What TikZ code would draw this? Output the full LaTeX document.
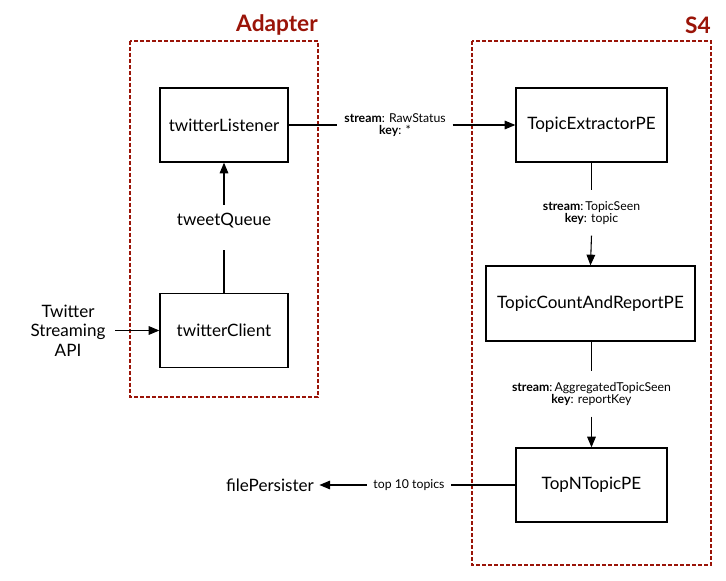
\documentclass[tikz,border=0pt]{standalone}
\usepackage{fontspec}
\setmainfont{Lato}
\usetikzlibrary{arrows.meta}
\definecolor{adred}{HTML}{9A1408}
\tikzset{
  px/.style={x=0.75pt,y=-0.75pt},
  pebox/.style={draw,line width=1pt,minimum height=55.5pt,inner sep=0pt,font=\fontsize{12.8}{14}\selectfont},
  plain/.style={font=\fontsize{12.8}{14.5}\selectfont,inner sep=0pt},
  lbl/.style={font=\fontsize{9.2}{9.3}\selectfont,align=center,inner xsep=5pt,inner ysep=7pt},
  grp/.style={draw=adred,line width=1pt,dash pattern=on 3pt off 1.5pt},
  ttl/.style={text=adred,font=\fontsize{17}{19}\bfseries\selectfont,inner sep=0pt},
  conn/.style={line width=0.8pt},
  arr/.style={conn,-{Triangle[length=8pt,width=6.5pt]}}
}
\begin{document}
\begin{tikzpicture}[px]
\useasboundingbox (0,0) rectangle (726,581);
% group boxes
\draw[grp] (130,41) rectangle (318,397);
\draw[grp] (472,41) rectangle (711,565);
\node[ttl,anchor=base east] (tadapter) at (318,32) {Adapter};
\node[ttl,anchor=base east] (ts4) at (711,34) {S4};
% nodes
\node[pebox,minimum width=96pt] (tl) at (224,125) {twitterListener};
\node[pebox,minimum width=96pt] (tc) at (224,330.5) {twitterClient};
\node[plain,anchor=base,text height=8.25pt,text depth=10.5pt,inner ysep=7.5pt] (tq) at (224,226) {tweetQueue};
\node[plain,align=center,inner xsep=7pt] (api) at (68,330.5) {Twitter\\Streaming\\API};
\node[pebox,minimum width=113.25pt] (te) at (591.5,125) {TopicExtractorPE};
\node[pebox,minimum width=156.75pt,minimum height=56.25pt] (tcr) at (590.5,303.5) {TopicCountAndReportPE};
\node[pebox,minimum width=113.25pt] (tn) at (591.5,485) {TopNTopicPE};
\node[plain,inner xsep=4pt] (fp) at (270,485) {filePersister};
% labels
\node[lbl] (l1) at (395,125) {\textbf{stream}: RawStatus\\\textbf{key}: *};
\node[lbl,inner ysep=8pt] (l2) at (591.5,213) {\textbf{stream}:\,TopicSeen\\\textbf{key}: topic};
\node[lbl,inner ysep=8pt] (l3) at (591.5,394) {\textbf{stream}:\,AggregatedTopicSeen\\\textbf{key}: reportKey};
\node[lbl,inner xsep=5pt] (l4) at (409,485) {top 10 topics};
% connectors
\draw[conn] (tl.east) -- (l1.west);
\draw[arr] (l1.east) -- (te.west);
\draw[conn] (tc.north) -- (tq.south);
\draw[arr] (tq.north) -- (tl.south);
\draw[arr] (api.east) -- (tc.west);
\draw[conn] (te.south) -- (l2.north);
\draw[arr] (l2.south) -- (tcr.north);
\draw[conn] (tcr.south -| l3.north) -- (l3.north);
\draw[arr] (l3.south) -- (tn.north);
\draw[conn] (tn.west) -- (l4.east);
\draw[arr] (l4.west) -- (fp.east);
\end{tikzpicture}
\end{document}
